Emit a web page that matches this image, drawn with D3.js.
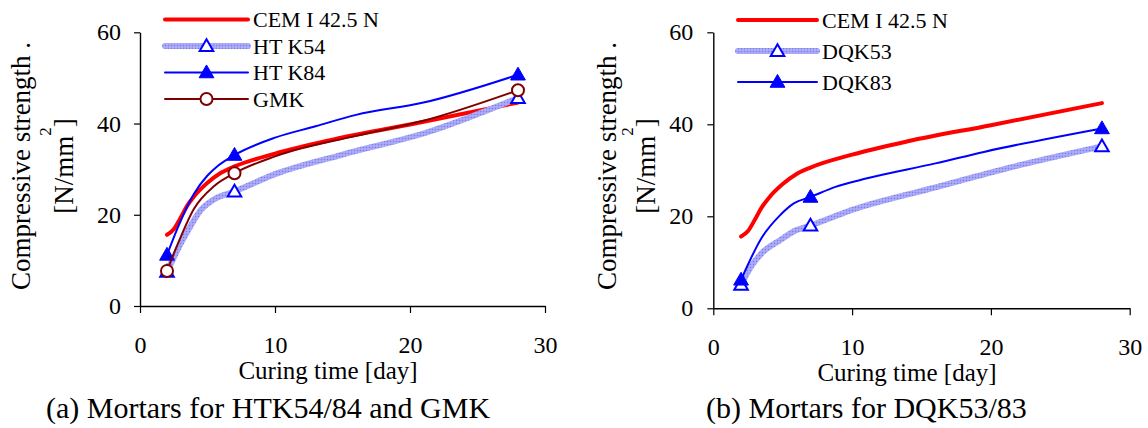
<!DOCTYPE html>
<html>
<head>
<meta charset="utf-8">
<script src="https://cdn.jsdelivr.net/npm/d3@7/dist/d3.min.js"></script>
<style>
  html, body { margin: 0; padding: 0; background: #fff; }
  svg { display: block; }
</style>
</head>
<body>
<svg id="chart" width="1148" height="428"></svg>
<script>
// Compressive strength of mortars versus curing time (days)
const yTicks = [0, 20, 40, 60];
const xTicks = [0, 10, 20, 30];
const markerDays = [2, 7, 28];

// Reference cement (shared by both panels)
const cemDays = [2, 2.5, 3, 3.5, 4, 5, 6, 7, 10, 14, 20, 28];
const cemVals = [15.6, 16.8, 19.3, 22.0, 24.0, 27.0, 29.2, 30.6, 33.4, 36.3, 39.8, 44.6];

// Panel (a)
const htk54Days = [2, 2.5, 3, 3.6, 4.5, 5.5, 7, 10, 15, 21.4, 28];
const htk54Vals = [7.5, 10.6, 13.6, 16.8, 21.0, 23.4, 25.1, 28.9, 33.2, 38.2, 45.6];
const htk84Days = [2, 2.8, 4, 5, 5.8, 7, 10, 13, 16, 21, 28];
const htk84Vals = [11.2, 17.2, 24.6, 28.6, 30.8, 33.1, 36.9, 39.4, 41.9, 44.6, 50.7];
const gmkDays = [2, 2.8, 4, 5.5, 7, 10, 16, 21, 28];
const gmkVals = [7.7, 13.6, 21.3, 26.3, 29.1, 32.8, 37.3, 40.6, 47.3];

// Panel (b)
const dqk53Days = [2, 2.7, 3.6, 4.8, 6, 7, 10, 16, 21.5, 28];
const dqk53Vals = [5.1, 9.0, 12.3, 14.8, 17.0, 18.0, 21.4, 26.3, 30.7, 35.2];
const dqk83Days = [2, 3.5, 4.8, 5.8, 7, 8.8, 11, 16, 19.5, 28];
const dqk83Vals = [6.2, 15.4, 20.2, 22.8, 24.2, 26.4, 28.2, 31.5, 34.0, 39.1];

// Legend labels and captions
const legendA = ["CEM I 42.5 N", "HT K54", "HT K84", "GMK"];
const legendB = ["CEM I 42.5 N", "DQK53", "DQK83"];
const captionA = "(a) Mortars for HTK54/84 and GMK";
const captionB = "(b) Mortars for DQK53/83";
const xTitle = "Curing time [day]";
const yTitle1 = "Compressive strength .";

const SERIF = "Liberation Serif";

const svg = d3.select("#chart").attr("font-family", SERIF);
svg.append("rect").attr("width", 1148).attr("height", 428).attr("fill", "#fff");

// Textured light-blue stroke
const defs = svg.append("defs");
const pat = defs.append("pattern").attr("id", "hatch")
  .attr("patternUnits", "userSpaceOnUse").attr("width", 3).attr("height", 3);
pat.append("rect").attr("width", 3).attr("height", 3).attr("fill", "#a2a2f6");
pat.append("rect").attr("width", 1).attr("height", 1).attr("fill", "#7c7ce6");
pat.append("rect").attr("x", 1.5).attr("y", 1.5).attr("width", 1).attr("height", 1).attr("fill", "#c6c6fb");

const styles = {
  cem:   { stroke: "#ff0000", width: 4, marker: null },
  light: { stroke: "url(#hatch)", width: 6, marker: "triOpen" },
  dark:  { stroke: "#0000ff", width: 2, marker: "triFill" },
  gmk:   { stroke: "#800000", width: 2, marker: "circle" }
};

function zip(days, vals) { return days.map((d, i) => ({ d, v: vals[i] })); }

function label(sel, size) {
  return sel.style("font-family", SERIF).style("font-size", size + "px").attr("fill", "#000");
}

function drawMarker(g, type, x, y) {
  if (type === "triOpen") {
    g.append("path").attr("d", d3.symbol(d3.symbolTriangle, 80)())
      .attr("transform", `translate(${x},${y + 1})`)
      .attr("fill", "#fff").attr("stroke", "#0000ff").attr("stroke-width", 2);
  } else if (type === "triFill") {
    g.append("path").attr("d", d3.symbol(d3.symbolTriangle, 95)())
      .attr("transform", `translate(${x},${y + 1})`)
      .attr("fill", "#0000ff").attr("stroke", "#0000ff").attr("stroke-width", 1);
  } else if (type === "circle") {
    g.append("circle").attr("cx", x).attr("cy", y).attr("r", 6)
      .attr("fill", "#fff").attr("stroke", "#800000").attr("stroke-width", 2);
  }
}

function drawPanel(p) {
  const x = d3.scaleLinear().domain([0, 30]).range([p.left, p.right]);
  const y = d3.scaleLinear().domain([0, 60]).range([p.bottom, p.top]);
  const g = svg.append("g");

  // axes
  const xAxis = d3.axisBottom(x).tickValues(xTicks).tickSize(7).tickSizeOuter(0).tickPadding(23);
  const yAxis = d3.axisLeft(y).tickValues(yTicks).tickSize(6).tickSizeOuter(0).tickPadding(p.yPad);
  const gx = g.append("g").attr("transform", `translate(0,${p.bottom})`).call(xAxis);
  const gy = g.append("g").attr("transform", `translate(${p.left},0)`).call(yAxis);
  [gx, gy].forEach(a => {
    a.attr("font-family", SERIF);
    a.selectAll("path,line").attr("stroke", "#000").attr("stroke-width", 1.2);
    label(a.selectAll("text"), 24);
    a.select(".domain").attr("stroke-width", 1.4);
  });

  // series
  const line = d3.line().x(d => x(d.d)).y(d => y(d.v)).curve(d3.curveMonotoneX);
  p.series.forEach(s => {
    const st = styles[s.style];
    const data = zip(s.days, s.vals);
    g.append("path").datum(data).attr("d", line)
      .attr("fill", "none").attr("stroke", st.stroke).attr("stroke-width", st.width)
      .attr("stroke-linejoin", "round").attr("stroke-linecap", "round");
    if (st.marker) {
      data.filter(d => markerDays.includes(d.d))
        .forEach(d => drawMarker(g, st.marker, x(d.d), y(d.v)));
    }
  });

  // legend
  p.series.forEach((s, i) => {
    const st = styles[s.style];
    const ly = p.legY + i * p.legStep;
    g.append("line").attr("x1", p.legX1).attr("x2", p.legX2).attr("y1", ly).attr("y2", ly)
      .attr("stroke", st.stroke).attr("stroke-width", st.width).attr("stroke-linecap", "round");
    if (st.marker) drawMarker(g, st.marker, (p.legX1 + p.legX2) / 2, ly);
    label(g.append("text").attr("x", p.legX2 + 5).attr("y", ly + 7.5), 22).text(p.labels[i]);
  });

  // axis titles
  label(g.append("text").attr("x", p.xTitleX).attr("y", p.xTitleY)
    .attr("text-anchor", "middle"), 25).text(xTitle);

  label(g.append("text").attr("transform", `translate(${p.yT1},${p.yMid}) rotate(-90)`)
    .attr("text-anchor", "middle"), 27).text(yTitle1);
  const t2 = label(g.append("text").attr("transform", `translate(${p.yT2},${p.yMid}) rotate(-90)`)
    .attr("text-anchor", "middle"), 27);
  t2.append("tspan").text("[N/mm");
  t2.append("tspan").attr("dy", -22).style("font-size", "17px").text("2");
  t2.append("tspan").attr("dy", 22).text("]");

  // caption
  label(g.append("text").attr("x", p.capX).attr("y", 418), 30).text(p.caption);
}

drawPanel({
  left: 140, right: 545, bottom: 306, top: 32.3, yPad: 13,
  series: [
    { style: "cem", days: cemDays, vals: cemVals },
    { style: "light", days: htk54Days, vals: htk54Vals },
    { style: "dark", days: htk84Days, vals: htk84Vals },
    { style: "gmk", days: gmkDays, vals: gmkVals }
  ],
  labels: legendA,
  legX1: 165, legX2: 248, legY: 19.5, legStep: 26.5,
  xTitleX: 328, xTitleY: 379,
  yT1: 30, yT2: 73, yMid: 166,
  capX: 46, caption: captionA
});

drawPanel({
  left: 713.3, right: 1129.7, bottom: 308.3, top: 32.3, yPad: 14,
  series: [
    { style: "cem", days: cemDays, vals: cemVals },
    { style: "light", days: dqk53Days, vals: dqk53Vals },
    { style: "dark", days: dqk83Days, vals: dqk83Vals }
  ],
  labels: legendB,
  legX1: 738, legX2: 817, legY: 20, legStep: 31,
  xTitleX: 907, xTitleY: 381,
  yT1: 616, yT2: 655, yMid: 166,
  capX: 706, caption: captionB
});
</script>
</body>
</html>
